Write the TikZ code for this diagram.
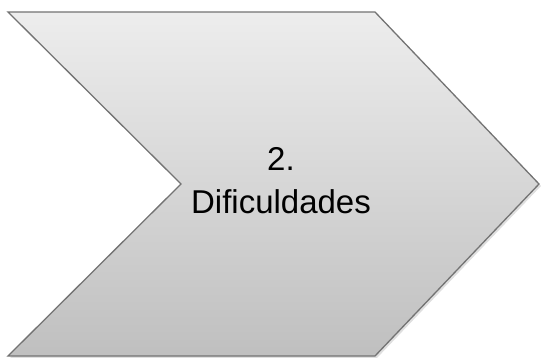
\documentclass[tikz,border=0pt]{standalone}
\usepackage{fontspec}
\setmainfont{Liberation Sans}
\usetikzlibrary{positioning,shadows}

\begin{document}
\begin{tikzpicture}[%
    x=1pt,
    y=-1pt,
    chevron/.style={%
      draw=gray!90!black,
      line width=1.3pt,
      line join=miter,
      top color=gray!14,
      bottom color=gray!50,
      drop shadow={shadow xshift=2pt,shadow yshift=-2pt,opacity=0.25}
    },
    label/.style={%
      align=center,
      font=\fontsize{33}{43}\selectfont,
      text=black
    }
  ]
    \useasboundingbox (0,0) rectangle (541,358);
    \path[chevron] (8,12) -- (375,12) -- (539,184) -- (375,356) -- (8,356) -- (181,184) -- cycle;
    \node[label] (step) at (281,181) {2.\\Dificuldades};
  \end{tikzpicture}
\end{document}
